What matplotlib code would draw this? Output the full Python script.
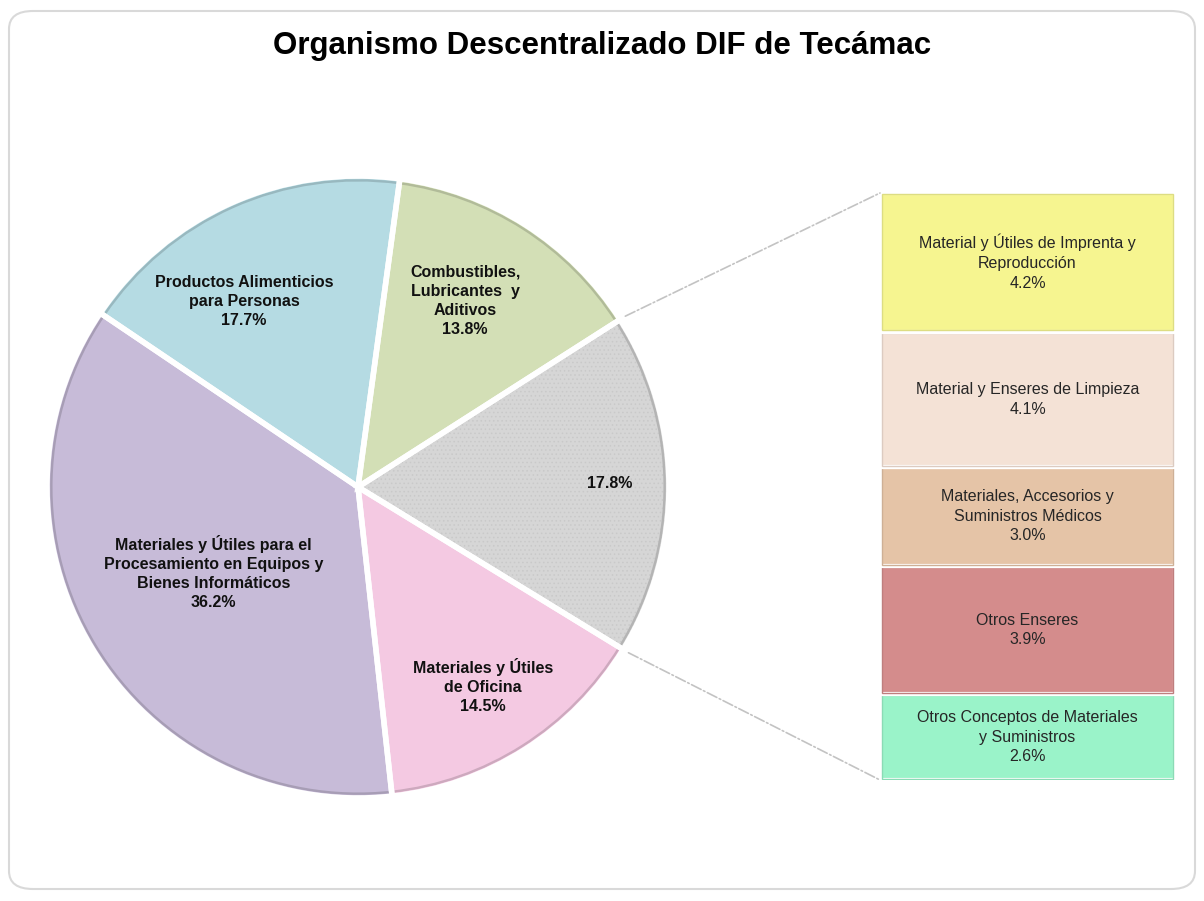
import numpy as np
import matplotlib
matplotlib.use("Agg")
import matplotlib.pyplot as plt
from matplotlib.patches import FancyBboxPatch, ConnectionPatch, Wedge, Arc
from matplotlib.colors import to_rgb

# ===== Data =====
TITLE = "Organismo Descentralizado DIF de Tecámac"

pie_labels = [
    "",
    "Combustibles,\nLubricantes  y\nAditivos",
    "Productos Alimenticios\npara Personas",
    "Materiales y Útiles para el\nProcesamiento en Equipos y\nBienes Informáticos",
    "Materiales y Útiles\nde Oficina",
]
pie_values = [17.8, 13.8, 17.7, 36.2, 14.5]
pie_colors = ["#d6d6d6", "#d3dfb6", "#b5dbe3", "#c7bbd8", "#f4c9e2"]

bar_labels = [
    "Otros Conceptos de Materiales\ny Suministros",
    "Otros Enseres",
    "Materiales, Accesorios y\nSuministros Médicos",
    "Material y Enseres de Limpieza",
    "Material y Útiles de Imprenta y\nReproducción",
]
bar_values = [2.6, 3.9, 3.0, 4.1, 4.2]
bar_colors = ["#9af3c9", "#d48c8c", "#e5c4a7", "#f4e2d6", "#f6f590"]
# ================

FONT = ["Liberation Sans", "DejaVu Sans"]
W, H = 1204, 901
plt.rcParams["hatch.linewidth"] = 0.6


def darker(c, f=0.8):
    return tuple(v * f for v in to_rgb(c))


fig = plt.figure(figsize=(W / 100, H / 100), dpi=100)
fig.patch.set_facecolor("white")

# rounded frame
frame = FancyBboxPatch((9 / W, 12 / H), 1186 / W, 878 / H,
                       boxstyle="round,pad=0,rounding_size=0.02",
                       transform=fig.transFigure, facecolor="none",
                       edgecolor="#d9d9d9", linewidth=1.5, zorder=-1)
fig.patches.append(frame)

fig.text(0.5, 1 - 46 / H, TITLE, ha="center", va="center",
         fontsize=22.5, fontweight="bold", family=FONT, color="black")

# pie
cx, cy, R = 358, 487, 311
ax = fig.add_axes([(cx - R) / W, 1 - (cy + R) / H, 2 * R / W, 2 * R / H])
ax.patch.set_visible(False)
wedges, _ = ax.pie(pie_values, colors=pie_colors, startangle=-31.5,
                   counterclock=True, radius=1,
                   wedgeprops=dict(linewidth=0))

# dotted texture on the "others" slice
w0 = wedges[0]
ax.add_patch(Wedge(w0.center, w0.r, w0.theta1, w0.theta2,
                   facecolor="none", edgecolor="#c9c9c9", linewidth=0,
                   hatch="....", zorder=2))

# darker rim along each outer arc, then white separators on top
for w, col in zip(wedges, pie_colors):
    ax.add_patch(Arc(w.center, 2 * w.r * 0.986, 2 * w.r * 0.986,
                     theta1=w.theta1, theta2=w.theta2,
                     color=darker(col, 0.84), linewidth=1.7, zorder=3))
    ax.add_patch(Wedge(w.center, w.r, w.theta1, w.theta2, facecolor="none",
                       edgecolor="white", linewidth=4, zorder=4))
ax.set_xlim(-1, 1)
ax.set_ylim(-1, 1)
ax.axis("off")

label_dist = [0.81, 0.69, 0.70, 0.54, 0.755]
label_shift = [0.3, 2.6, 7.4, -0.5, -0.3]
for i, w in enumerate(wedges):
    mid = np.deg2rad((w.theta1 + w.theta2) / 2 + label_shift[i])
    txt = f"{pie_values[i]:.1f}%"
    if pie_labels[i]:
        txt = pie_labels[i] + "\n" + txt
    ax.text(label_dist[i] * np.cos(mid), label_dist[i] * np.sin(mid), txt,
            ha="center", va="center", fontsize=11.5, fontweight="bold",
            family=FONT, color="#111111", linespacing=1.35, zorder=5)

# stacked bar
bx0, bx1, by0, by1 = 880, 1175, 193, 780
bax = fig.add_axes([bx0 / W, 1 - by1 / H, (bx1 - bx0) / W, (by1 - by0) / H])
bax.patch.set_visible(False)
bottom = 0
for val, col, lab in zip(bar_values, bar_colors, bar_labels):
    bax.bar(0, val, width=1, bottom=bottom, color=col,
            edgecolor="white", linewidth=3)
    bax.bar(0, val * 0.985, width=0.985, bottom=bottom + val * 0.0075,
            color="none", edgecolor=darker(col, 0.9), linewidth=1)
    bax.text(0, bottom + val / 2, f"{lab}\n{val:.1f}%", ha="center",
             va="center", fontsize=11.5, family=FONT, color="#262626",
             linespacing=1.4)
    bottom += val
bax.set_xlim(-0.5, 0.5)
bax.set_ylim(0, bottom)
bax.axis("off")

# connector lines
for ang, yb in [(w0.theta2, bottom), (w0.theta1, 0)]:
    a = np.deg2rad(ang)
    con = ConnectionPatch(xyA=(np.cos(a) * 1.02, np.sin(a) * 1.02),
                          coordsA=ax.transData,
                          xyB=(-0.5, yb), coordsB=bax.transData,
                          color="#c3c3c3", linewidth=1.2, linestyle="-.")
    fig.add_artist(con)

fig.savefig("out.png", dpi=100)
